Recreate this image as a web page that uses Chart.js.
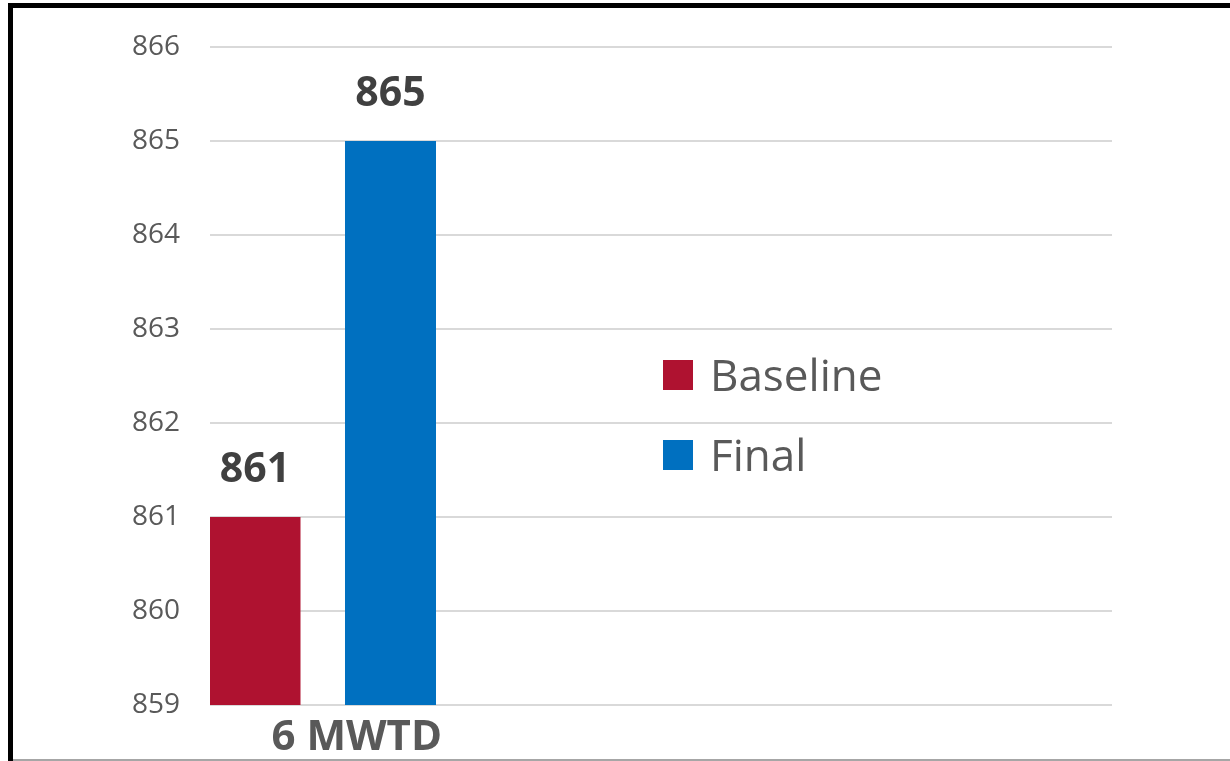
<!DOCTYPE html>
<html>
<head>
<meta charset="utf-8">
<script src="https://cdn.jsdelivr.net/npm/chart.js@4.4.1/dist/chart.umd.min.js"></script>
<style>
  html, body { margin: 0; padding: 0; background: #fff; }
  body { width: 1230px; height: 761px; position: relative; overflow: hidden; font-family: "Open Sans", sans-serif; }
  #chart { position: absolute; left: 0; top: 0; }
  .frame { position: absolute; left: 8px; top: 3px; right: -10px; bottom: -10px;
           border-left: 5px solid #000; border-top: 5px solid #000; pointer-events: none; }
  .base-rule { position: absolute; left: 13px; right: 0; top: 759px; height: 2px; background: #a6a6a6; }
  #legend { position: absolute; left: 663px; top: 350px; }
  .item { display: flex; align-items: center; height: 50px; margin-bottom: 30px; }
  .swatch { width: 30px; height: 30px; margin-right: 17px; }
  .item span { font-size: 44px; line-height: 1; color: #595959; position: relative; top: -1px; }
</style>
</head>
<body>
<canvas id="chart" width="1230" height="761"></canvas>
<div class="frame"></div>
<div class="base-rule"></div>
<div id="legend"></div>
<script>
// Category and series values
const categories = ['6 MWTD', '', '', ''];
const baselineValues = [861, null, null, null];
const finalValues = [865, null, null, null];
const yTicks = [859, 860, 861, 862, 863, 864, 865, 866];

const seriesNames = ['Baseline', 'Final'];
const seriesColors = ['#AF1230', '#0070C0'];

// Value labels above each bar
const valueLabels = {
  id: 'valueLabels',
  afterDatasetsDraw(chart) {
    const ctx = chart.ctx;
    ctx.save();
    ctx.font = 'bold 41px "Open Sans", sans-serif';
    ctx.fillStyle = '#404040';
    ctx.textAlign = 'center';
    ctx.textBaseline = 'alphabetic';
    chart.data.datasets.forEach((ds, i) => {
      chart.getDatasetMeta(i).data.forEach((bar, j) => {
        const v = ds.data[j];
        if (v === null || v === undefined) return;
        ctx.fillText(String(v), bar.x, bar.y - 35);
      });
    });
    ctx.restore();
  }
};

const chart = new Chart(document.getElementById('chart'), {
  type: 'bar',
  data: {
    labels: categories,
    datasets: [
      { label: seriesNames[0], data: baselineValues, backgroundColor: seriesColors[0] },
      { label: seriesNames[1], data: finalValues, backgroundColor: seriesColors[1] }
    ]
  },
  options: {
    responsive: false,
    animation: false,
    categoryPercentage: 1.2018,
    barPercentage: 0.6716,
    layout: { padding: { left: 0, top: 47, right: 118, bottom: 0 } },
    plugins: { legend: { display: false }, tooltip: { enabled: false } },
    scales: {
      x: {
        grid: { display: false },
        border: { display: false },
        ticks: {
          color: '#595959',
          font: { family: '"Open Sans", sans-serif', size: 42, weight: 'bold' },
          padding: 0,
          labelOffset: 34,
          autoSkip: false,
          maxRotation: 0
        },
        afterFit: s => { s.height = 56; }
      },
      y: {
        min: yTicks[0],
        max: yTicks[yTicks.length - 1],
        afterBuildTicks: s => { s.ticks = yTicks.map(v => ({ value: v })); },
        grid: { color: '#d9d9d9', lineWidth: 2, drawTicks: false },
        border: { display: false },
        ticks: {
          color: '#595959',
          font: { family: '"Open Sans", sans-serif', size: 28 },
          padding: 30
        },
        afterFit: s => { s.width = 210; }
      }
    }
  },
  plugins: [valueLabels]
});

// Legend built from the datasets
const legend = document.getElementById('legend');
chart.data.datasets.forEach(ds => {
  const row = document.createElement('div');
  row.className = 'item';
  const sw = document.createElement('div');
  sw.className = 'swatch';
  sw.style.background = ds.backgroundColor;
  const txt = document.createElement('span');
  txt.textContent = ds.label;
  row.appendChild(sw);
  row.appendChild(txt);
  legend.appendChild(row);
});
</script>
</body>
</html>
